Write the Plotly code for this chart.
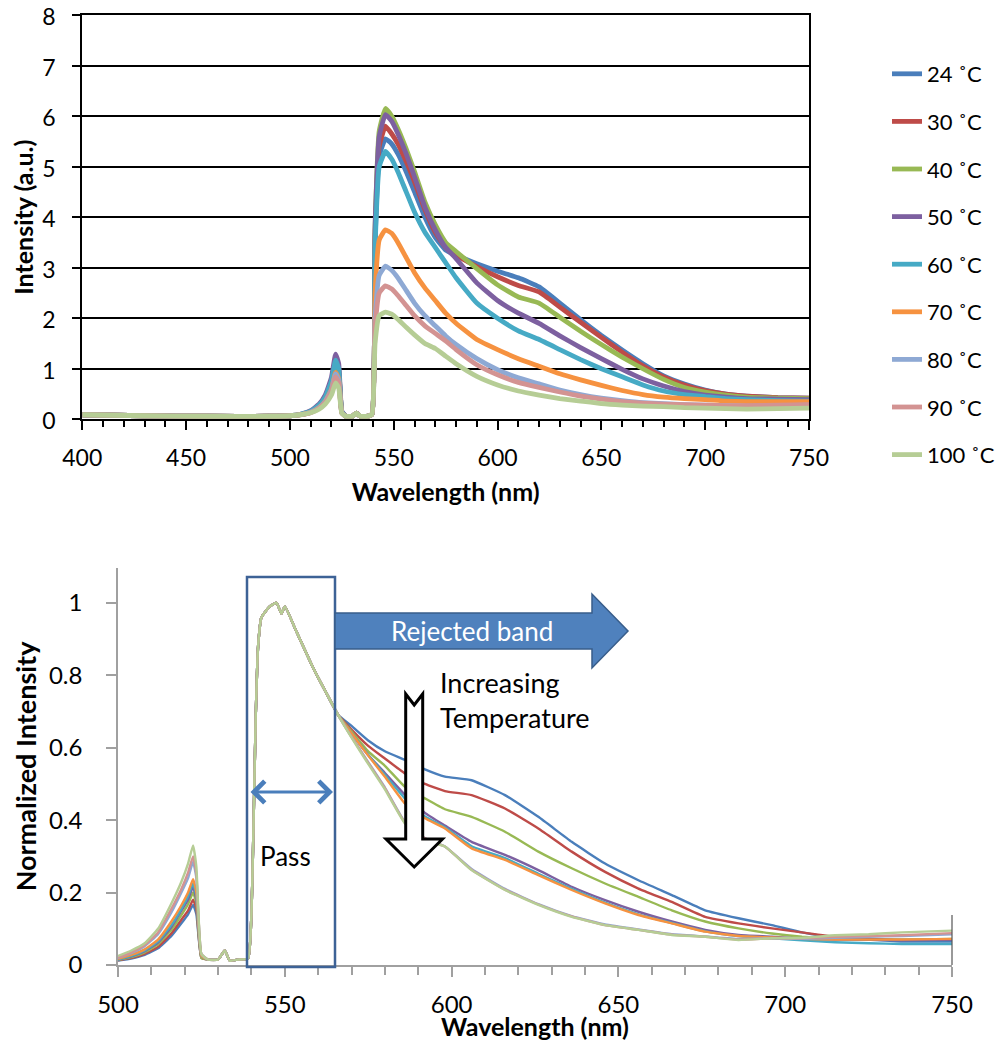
import plotly.graph_objects as go

OFF = 8  # page body margin of the written html
W, H = 1003 - 2 * OFF, 1051 - 2 * OFF

# ---------------- data ----------------
labels = ["24 ˚C", "30 ˚C", "40 ˚C", "50 ˚C", "60 ˚C", "70 ˚C", "80 ˚C", "90 ˚C", "100 ˚C"]
colors = ["#4A7EBB", "#BE4B48", "#98B954", "#7D60A0", "#46AAC5",
          "#F69240", "#8EA9D4", "#D39392", "#B6CD95"]

# Top chart: raw intensity (a.u.) vs wavelength (nm)
wl_top = [400, 430, 460, 490, 500, 505, 510, 514, 517, 520, 522, 523.5, 525,
          527, 530, 532, 534, 537, 539.5, 541, 543, 546, 549, 552, 556, 560, 565,
          570, 575, 580, 590, 600, 610, 620, 630, 640, 650, 660, 670, 680, 690,
          700, 710, 720, 735, 750]

int_24 = [0.09, 0.07, 0.06, 0.06, 0.07, 0.09, 0.15, 0.26, 0.42, 0.72, 1.12, 0.95, 0.15,
          0.06, 0.06, 0.12, 0.06, 0.06, 0.10, 3.5, 5.2, 5.55, 5.45, 5.25, 4.9, 4.5, 4.0,
          3.6, 3.35, 3.25, 3.08, 2.93, 2.8, 2.62, 2.3, 1.97, 1.66, 1.37, 1.1, 0.86, 0.7,
          0.58, 0.5, 0.46, 0.43, 0.42]
int_30 = [0.09, 0.07, 0.06, 0.06, 0.07, 0.09, 0.14, 0.25, 0.40, 0.68, 1.05, 0.90, 0.15,
          0.06, 0.06, 0.12, 0.06, 0.06, 0.10, 3.6, 5.4, 5.8, 5.65, 5.45, 5.1, 4.7, 4.15,
          3.7, 3.4, 3.25, 3.02, 2.82, 2.65, 2.52, 2.22, 1.92, 1.62, 1.33, 1.06, 0.84, 0.68,
          0.57, 0.5, 0.46, 0.43, 0.42]
int_40 = [0.09, 0.07, 0.06, 0.06, 0.07, 0.09, 0.15, 0.27, 0.43, 0.74, 1.15, 0.98, 0.15,
          0.06, 0.06, 0.12, 0.06, 0.06, 0.10, 3.8, 5.7, 6.15, 6.0, 5.75, 5.35, 4.9, 4.3,
          3.85, 3.5, 3.32, 2.98, 2.66, 2.42, 2.3, 2.02, 1.74, 1.48, 1.23, 1.0, 0.79, 0.63,
          0.54, 0.48, 0.44, 0.42, 0.41]
int_50 = [0.09, 0.07, 0.06, 0.06, 0.07, 0.10, 0.17, 0.30, 0.48, 0.83, 1.29, 1.10, 0.16,
          0.06, 0.06, 0.12, 0.06, 0.06, 0.10, 3.8, 5.6, 6.03, 5.9, 5.65, 5.25, 4.8, 4.2,
          3.75, 3.4, 3.18, 2.7, 2.35, 2.1, 1.9, 1.65, 1.42, 1.2, 0.99, 0.8, 0.66, 0.55,
          0.48, 0.44, 0.41, 0.40, 0.39]
int_60 = [0.09, 0.07, 0.06, 0.06, 0.07, 0.10, 0.16, 0.28, 0.44, 0.76, 1.17, 1.00, 0.15,
          0.06, 0.06, 0.12, 0.06, 0.06, 0.10, 3.4, 5.0, 5.3, 5.15, 4.9, 4.5, 4.1, 3.7,
          3.4, 3.1, 2.8, 2.3, 2.0, 1.75, 1.58, 1.38, 1.18, 1.0, 0.84, 0.68, 0.56, 0.49,
          0.45, 0.41, 0.39, 0.37, 0.36]
int_70 = [0.09, 0.07, 0.06, 0.06, 0.07, 0.09, 0.14, 0.23, 0.36, 0.60, 0.93, 0.80, 0.13,
          0.06, 0.06, 0.12, 0.06, 0.06, 0.10, 2.5, 3.55, 3.75, 3.68, 3.5, 3.2, 2.9, 2.6,
          2.35, 2.1, 1.9, 1.58, 1.38, 1.2, 1.05, 0.9, 0.78, 0.67, 0.57, 0.49, 0.44, 0.41,
          0.39, 0.36, 0.35, 0.35, 0.35]
int_80 = [0.09, 0.07, 0.06, 0.06, 0.07, 0.09, 0.14, 0.23, 0.35, 0.58, 0.90, 0.77, 0.13,
          0.06, 0.06, 0.12, 0.06, 0.06, 0.10, 2.0, 2.85, 3.03, 2.95, 2.8, 2.55, 2.3, 2.05,
          1.85, 1.65, 1.48, 1.2, 0.98, 0.82, 0.7, 0.58, 0.49, 0.42, 0.37, 0.33, 0.31, 0.29,
          0.28, 0.27, 0.26, 0.27, 0.28]
int_90 = [0.09, 0.07, 0.06, 0.06, 0.07, 0.09, 0.13, 0.22, 0.33, 0.55, 0.84, 0.72, 0.12,
          0.06, 0.06, 0.12, 0.06, 0.06, 0.10, 1.8, 2.5, 2.64, 2.58, 2.45, 2.25, 2.05, 1.85,
          1.7, 1.55, 1.38, 1.08, 0.88, 0.73, 0.63, 0.54, 0.46, 0.4, 0.35, 0.32, 0.3, 0.29,
          0.28, 0.27, 0.27, 0.28, 0.29]
int_100 = [0.09, 0.07, 0.06, 0.06, 0.07, 0.09, 0.13, 0.20, 0.30, 0.48, 0.72, 0.62, 0.12,
           0.06, 0.06, 0.12, 0.06, 0.06, 0.10, 1.5, 2.05, 2.12, 2.08, 1.98, 1.82, 1.67, 1.5,
           1.4, 1.25, 1.1, 0.85, 0.68, 0.56, 0.48, 0.41, 0.36, 0.31, 0.28, 0.26, 0.25, 0.23,
           0.22, 0.21, 0.2, 0.21, 0.22]

# Bottom chart: normalized intensity vs wavelength (nm)
wl_norm = [500, 504, 508, 512, 516, 519, 521, 522.5, 523.5, 525,
           527, 530, 532, 533.5, 536, 539,
           540, 540.5, 541.3, 542, 543, 545.5, 547.5, 549, 550, 553.5, 558.5, 562.5, 566,
           570, 575, 580, 586, 592, 598, 606, 616, 626, 636, 646, 656, 666, 676, 686,
           696, 705, 715, 725, 735, 750]

gap_norm = [0.015, 0.015, 0.04, 0.012, 0.015, 0.018]
pass_norm = [0.14, 0.33, 0.69, 0.88, 0.96, 0.99, 1.0, 0.97, 0.99, 0.92, 0.82, 0.75, 0.69]

rise_24 = [0.012, 0.018, 0.028, 0.046, 0.08, 0.115, 0.14, 0.166, 0.14, 0.02]
rise_30 = [0.013, 0.02, 0.031, 0.05, 0.087, 0.125, 0.15, 0.18, 0.155, 0.02]
rise_40 = [0.014, 0.022, 0.035, 0.057, 0.097, 0.138, 0.168, 0.2, 0.17, 0.02]
rise_50 = [0.015, 0.024, 0.038, 0.062, 0.105, 0.15, 0.18, 0.216, 0.18, 0.025]
rise_60 = [0.015, 0.025, 0.04, 0.065, 0.11, 0.155, 0.19, 0.225, 0.19, 0.025]
rise_70 = [0.017, 0.028, 0.043, 0.07, 0.12, 0.165, 0.2, 0.237, 0.2, 0.025]
rise_80 = [0.02, 0.033, 0.052, 0.085, 0.145, 0.2, 0.24, 0.285, 0.24, 0.03]
rise_90 = [0.02, 0.035, 0.055, 0.09, 0.155, 0.21, 0.255, 0.30, 0.25, 0.03]
rise_100 = [0.025, 0.04, 0.06, 0.1, 0.17, 0.23, 0.28, 0.33, 0.27, 0.03]

tail_24 = [0.66, 0.62, 0.59, 0.566, 0.54, 0.52, 0.51, 0.469, 0.409, 0.34, 0.28, 0.234,
           0.193, 0.151, 0.129, 0.11, 0.09, 0.075, 0.07, 0.065, 0.065]
tail_30 = [0.65, 0.605, 0.57, 0.529, 0.50, 0.48, 0.469, 0.432, 0.377, 0.313, 0.257, 0.211,
           0.174, 0.133, 0.115, 0.101, 0.09, 0.078, 0.072, 0.07, 0.07]
tail_40 = [0.645, 0.59, 0.55, 0.492, 0.46, 0.43, 0.409, 0.368, 0.313, 0.267, 0.225, 0.188,
           0.151, 0.12, 0.101, 0.087, 0.078, 0.072, 0.07, 0.07, 0.072]
tail_50 = [0.64, 0.58, 0.53, 0.47, 0.42, 0.385, 0.34, 0.304, 0.262, 0.216, 0.179, 0.147,
           0.12, 0.097, 0.083, 0.078, 0.072, 0.07, 0.07, 0.068, 0.07]
tail_60 = [0.64, 0.58, 0.525, 0.46, 0.41, 0.38, 0.328, 0.295, 0.252, 0.21, 0.172, 0.14,
           0.116, 0.093, 0.08, 0.074, 0.068, 0.063, 0.06, 0.058, 0.058]
tail_70 = [0.64, 0.578, 0.52, 0.446, 0.405, 0.377, 0.322, 0.29, 0.248, 0.207, 0.17, 0.138,
           0.115, 0.092, 0.08, 0.076, 0.072, 0.07, 0.07, 0.07, 0.072]
tail_80 = [0.63, 0.56, 0.49, 0.395, 0.35, 0.327, 0.265, 0.21, 0.168, 0.135, 0.112, 0.098,
           0.085, 0.079, 0.072, 0.074, 0.072, 0.075, 0.078, 0.08, 0.085]
tail_90 = [0.63, 0.558, 0.488, 0.393, 0.35, 0.327, 0.263, 0.208, 0.167, 0.134, 0.11, 0.097,
           0.084, 0.078, 0.07, 0.074, 0.074, 0.078, 0.08, 0.082, 0.088]
tail_100 = [0.628, 0.555, 0.485, 0.391, 0.345, 0.327, 0.262, 0.207, 0.166, 0.133, 0.11,
            0.097, 0.083, 0.078, 0.069, 0.074, 0.075, 0.082, 0.085, 0.09, 0.095]

top_series = [int_24, int_30, int_40, int_50, int_60, int_70, int_80, int_90, int_100]
rises = [rise_24, rise_30, rise_40, rise_50, rise_60, rise_70, rise_80, rise_90, rise_100]
tails = [tail_24, tail_30, tail_40, tail_50, tail_60, tail_70, tail_80, tail_90, tail_100]
norm_series = [r + gap_norm + pass_norm + t for r, t in zip(rises, tails)]

# ---------------- figure ----------------
FONT = "Lato"
fig = go.Figure()

for name, col, ys in zip(labels, colors, top_series):
    fig.add_trace(go.Scatter(x=wl_top, y=ys, mode="lines", name=name, legendgroup=name,
                             line=dict(color=col, width=4.8, shape="spline", smoothing=0.4),
                             xaxis="x", yaxis="y"))

for name, col, ys in zip(labels, colors, norm_series):
    fig.add_trace(go.Scatter(x=wl_norm, y=ys, mode="lines", name=name, showlegend=False,
                             line=dict(color=col, width=2.4, shape="spline", smoothing=0.4),
                             xaxis="x2", yaxis="y2"))


def px(x):
    return (x - OFF) / W


def py(y):
    return 1 - (y - OFF) / H


def path(points):
    s = "M " + " L ".join(f"{px(a):.5f},{py(b):.5f}" for a, b in points) + " Z"
    return s


shapes = [
    # Pass band box
    dict(type="rect", xref="paper", yref="paper", x0=px(247), x1=px(335), y0=py(967), y1=py(577),
         line=dict(color="#3D6296", width=2.5), fillcolor="rgba(0,0,0,0)", layer="above"),
    # Rejected band block arrow
    dict(type="path", xref="paper", yref="paper",
         path=path([(335, 613), (592, 613), (592, 594), (628, 631), (592, 668), (592, 649), (335, 649)]),
         fillcolor="#4F81BD", line=dict(color="#385D8A", width=1.5), layer="above"),
    # Hollow down arrow (increasing temperature)
    dict(type="path", xref="paper", yref="paper",
         path=path([(405.7, 694), (414.2, 705), (422.7, 694), (422.7, 839), (442.5, 839),
                    (414.2, 867), (386, 839), (405.7, 839)]),
         fillcolor="white", line=dict(color="black", width=3), layer="above"),
    # short right border line on lower chart
    dict(type="line", xref="paper", yref="paper", x0=px(952), x1=px(952), y0=py(965), y1=py(915),
         line=dict(color="#555555", width=1.2)),
]

annotations = [
    dict(xref="paper", yref="paper", x=px(333), y=py(792), ax=-84, ay=0,
         axref="pixel", ayref="pixel", showarrow=True, arrowside="end+start",
         arrowhead=4, startarrowhead=4, arrowwidth=3, arrowsize=1.4, startarrowsize=1.4,
         arrowcolor="#4A7EBB", text=""),
    dict(xref="paper", yref="paper", x=px(285), y=py(856), text="Pass", showarrow=False,
         xanchor="center", yanchor="middle",
         font=dict(family=FONT, size=26, color="black")),
    dict(xref="paper", yref="paper", x=px(472), y=py(631), text="Rejected band", showarrow=False,
         xanchor="center", yanchor="middle",
         font=dict(family=FONT, size=26, color="white")),
    dict(xref="paper", yref="paper", x=px(438), y=py(700), text="Increasing<br>Temperature",
         showarrow=False, xanchor="left", yanchor="middle", align="left",
         font=dict(family=FONT, size=27, color="black")),
    # lower x-axis title (placed tight under its tick labels, as in the reference)
    dict(xref="paper", yref="paper", x=px(535), y=py(1026), text="<b>Wavelength (nm)</b>",
         showarrow=False, xanchor="center", yanchor="middle",
         font=dict(family=FONT, size=25, color="black")),
]

fig.update_layout(
    width=W, height=H, margin=dict(l=0, r=0, t=0, b=0, autoexpand=False),
    paper_bgcolor="white", plot_bgcolor="white",
    font=dict(family=FONT, size=23, color="black"),
    showlegend=True,
    legend=dict(x=px(887), xanchor="left", y=py(53), yanchor="top",
                font=dict(family=FONT, size=22, color="black"),
                tracegroupgap=16, bgcolor="rgba(0,0,0,0)", itemwidth=30),
    xaxis=dict(domain=[px(82.3), px(809)], anchor="y", range=[400, 750], automargin=False,
               tick0=400, dtick=50, ticks="outside", ticklen=9, tickwidth=1.5, tickcolor="black",
               showline=True, linecolor="black", linewidth=2, mirror=True,
               showgrid=False, zeroline=False, ticklabelstandoff=8,
               minor=dict(dtick=10, ticks="outside", ticklen=6, tickwidth=1.5, tickcolor="black",
                          showgrid=False),
               title=dict(text="<b>Wavelength (nm)</b>", font=dict(size=25), standoff=14)),
    yaxis=dict(domain=[py(419.3), py(15)], anchor="x", range=[0, 8], dtick=1, automargin=False,
               ticks="outside", ticklen=8, tickwidth=1.5, tickcolor="black",
               showline=True, linecolor="black", linewidth=2, mirror=True,
               showgrid=True, gridcolor="black", gridwidth=1.5, zeroline=False,
               ticklabelstandoff=12, ticklabeloverflow="allow", ticklabelshift=2,
               title=dict(text="<b>Intensity (a.u.)</b>", font=dict(size=25), standoff=8)),
    xaxis2=dict(domain=[px(118), px(952)], anchor="y2", range=[500, 750], automargin=False,
                tick0=500, dtick=50, ticks="outside", ticklen=10, tickwidth=1.5, tickcolor="#A0A0A0",
                showline=True, linecolor="#A0A0A0", linewidth=1.5, mirror=False,
                showgrid=False, zeroline=False, ticklabelstandoff=7,
                minor=dict(dtick=10, ticks="outside", ticklen=8, tickwidth=1.5, tickcolor="#A0A0A0",
                           showgrid=False),
                tickfont=dict(size=24)),
    yaxis2=dict(domain=[py(965), py(568)], anchor="x2", range=[0, 1.096], automargin=False,
                tickvals=[0, 0.2, 0.4, 0.6, 0.8, 1.0], ticktext=["0", "0.2", "0.4", "0.6", "0.8", "1"],
                ticks="outside", ticklen=10, tickwidth=1.5, tickcolor="#A0A0A0",
                showline=True, linecolor="#A0A0A0", linewidth=1.5, mirror=False,
                showgrid=False, zeroline=False, ticklabelstandoff=19,
                tickfont=dict(size=24),
                title=dict(text="<b>Normalized Intensity</b>", font=dict(size=27), standoff=4)),
    shapes=shapes,
    annotations=annotations,
)

fig.write_html("out.html")
